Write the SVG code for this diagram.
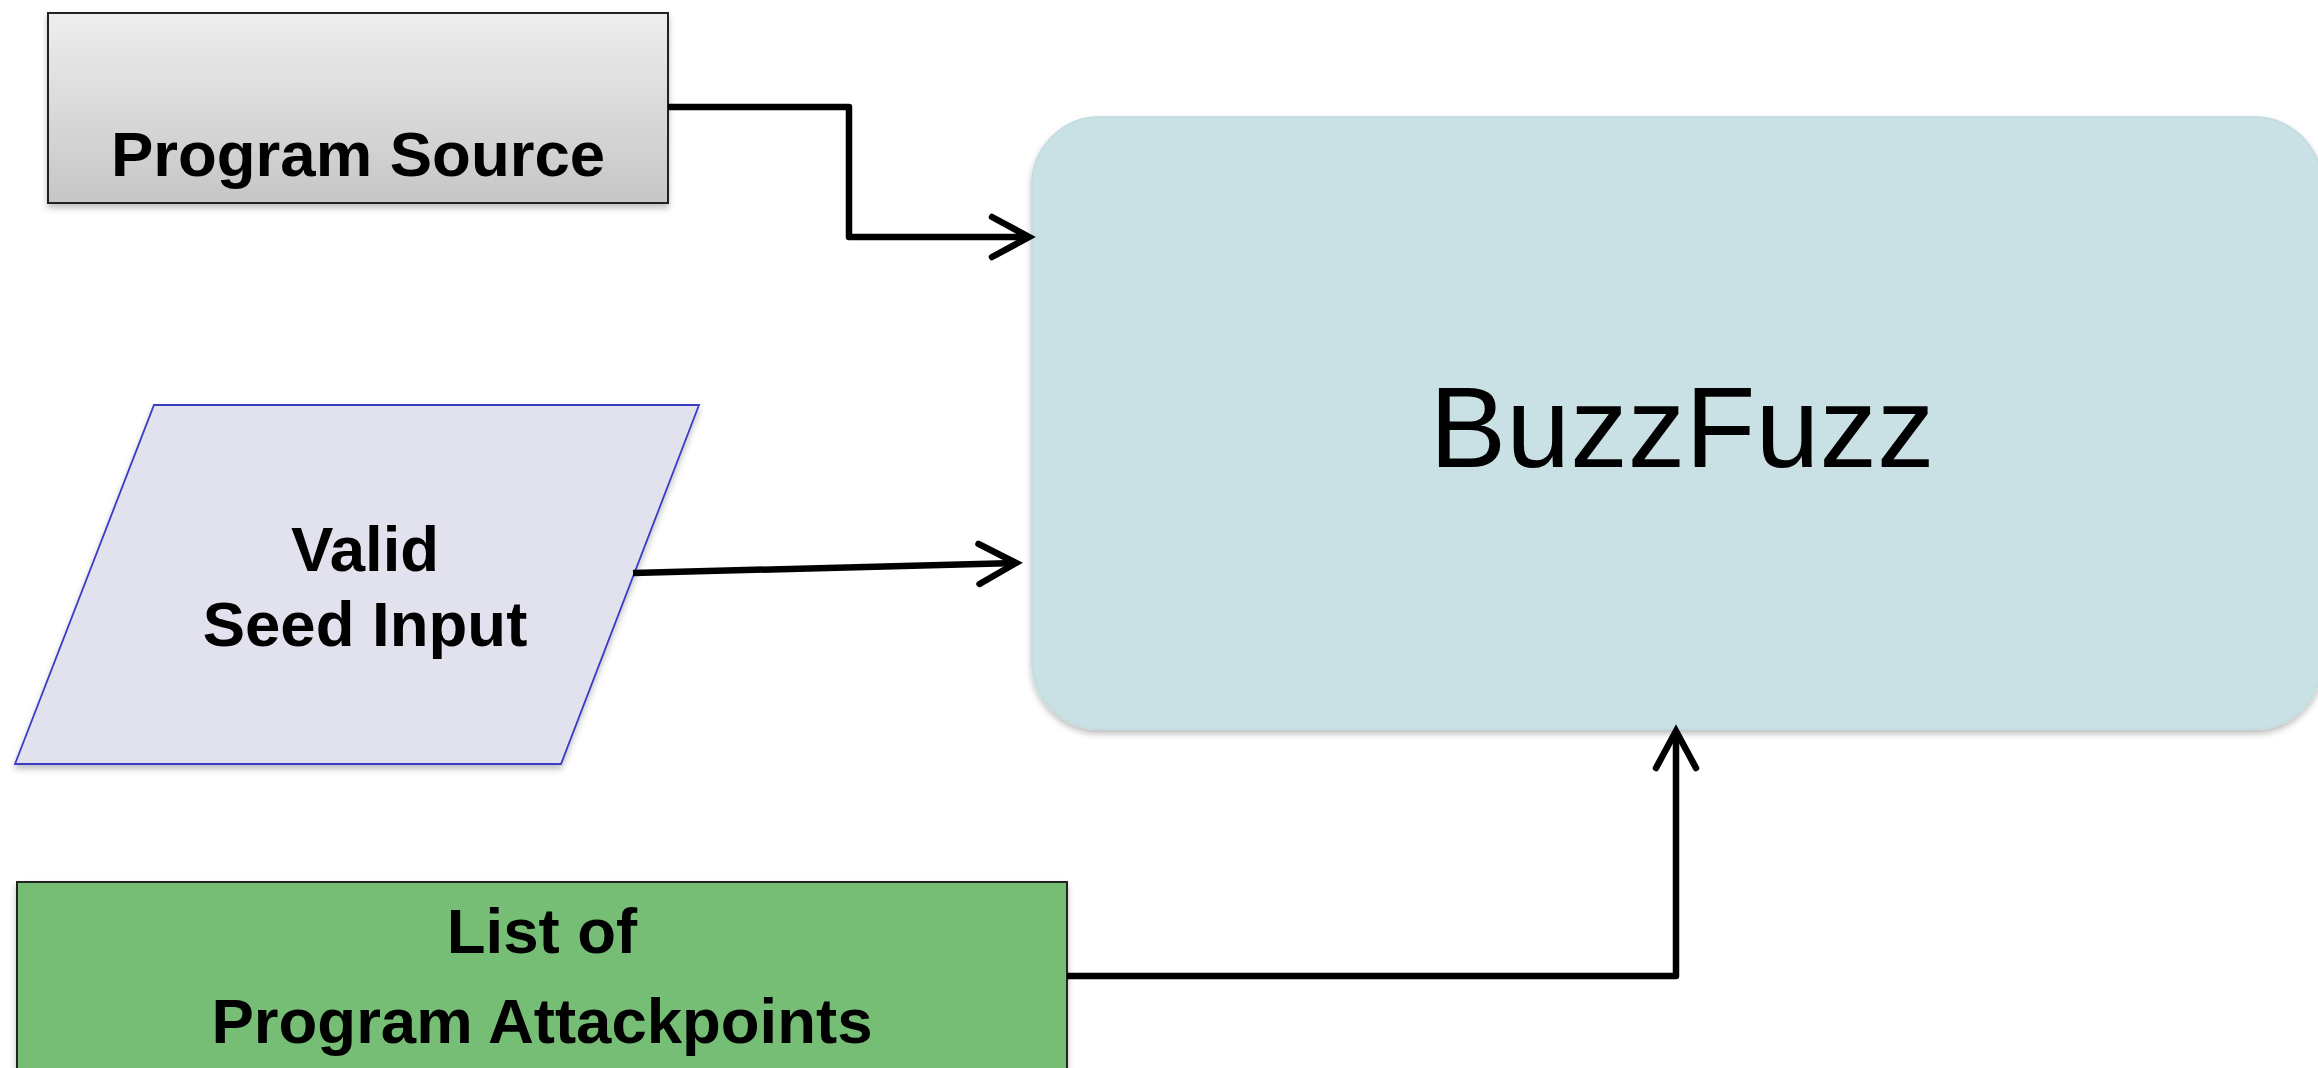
<svg xmlns="http://www.w3.org/2000/svg" width="2318" height="1068" viewBox="0 0 2318 1068">
  <style>
    .lbl { font-family: "Liberation Sans", Arial, sans-serif; font-weight: bold; font-size: 63.5px; fill: #000; text-anchor: middle; }
    .big { font-family: "Liberation Sans", Arial, sans-serif; font-size: 115px; fill: #000; text-anchor: middle; }
    .conn { fill: none; stroke: #000; stroke-width: 6.5; stroke-linejoin: round; marker-end: url(#arrow); }
  </style>
  <defs>
    <linearGradient id="grayGrad" x1="0" y1="0" x2="0" y2="1">
      <stop offset="0" stop-color="#eeeeee"/>
      <stop offset="1" stop-color="#c6c6c6"/>
    </linearGradient>
    <filter id="shadow" x="-5%" y="-5%" width="110%" height="115%">
      <feDropShadow dx="0" dy="4" stdDeviation="3" flood-color="#000" flood-opacity="0.25"/>
    </filter>
    <marker id="arrow" markerUnits="userSpaceOnUse" markerWidth="80" markerHeight="80" refX="0" refY="0" orient="auto" overflow="visible">
      <path d="M -37 -20 L 0 0 L -37 20" fill="none" stroke="#000" stroke-width="6.5" stroke-linecap="round" stroke-linejoin="miter"/>
    </marker>
  </defs>

  <rect width="2318" height="1068" fill="#ffffff"/>

  <g id="buzzfuzz">
    <rect x="1032" y="117" width="1290" height="612" rx="68" ry="68" fill="#c9e1e4" stroke="#c3dde1" stroke-width="2" filter="url(#shadow)"/>
    <text class="big" x="1682" y="467">BuzzFuzz</text>
  </g>

  <g id="program-source">
    <rect x="48" y="13" width="620" height="190" fill="url(#grayGrad)" stroke="#222" stroke-width="2" filter="url(#shadow)"/>
    <text class="lbl" x="358" y="176">Program Source</text>
  </g>

  <g id="valid-seed-input">
    <polygon points="154,405 699,405 561,764 15,764" fill="#e1e2ee" stroke="#3b3bc4" stroke-width="1.8" filter="url(#shadow)"/>
    <text class="lbl" x="365" y="571">Valid</text>
    <text class="lbl" x="365" y="646">Seed Input</text>
  </g>

  <g id="attackpoints">
    <rect x="17" y="882" width="1050" height="200" fill="#76bd76" stroke="#222" stroke-width="2" filter="url(#shadow)"/>
    <text class="lbl" x="542" y="953">List of</text>
    <text class="lbl" x="542" y="1043">Program Attackpoints</text>
  </g>

  <g id="connectors">
    <path class="conn" d="M 668 107 H 849 V 237 H 1029"/>
    <path class="conn" d="M 633 573 L 1016 563"/>
    <path class="conn" d="M 1067 976 H 1676 V 731"/>
  </g>
</svg>
